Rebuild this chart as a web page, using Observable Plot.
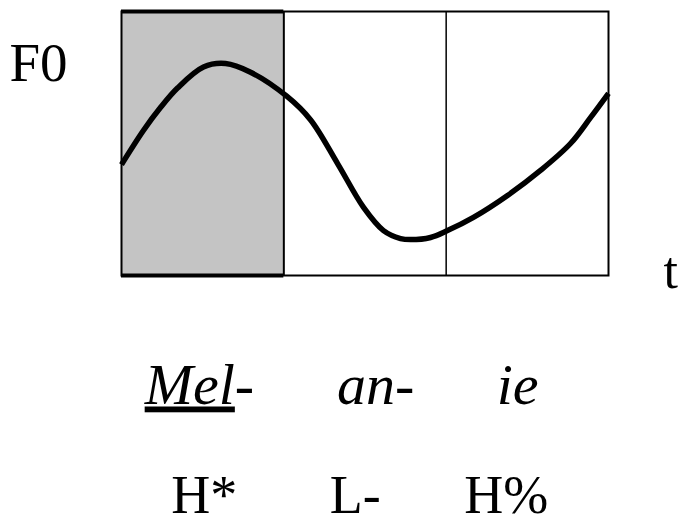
<!DOCTYPE html>
<html>
<head>
<meta charset="utf-8">
<script src="https://cdn.jsdelivr.net/npm/d3@7"></script>
<script src="https://cdn.jsdelivr.net/npm/@observablehq/plot@0.6"></script>
<style>
  html, body { margin: 0; padding: 0; background: #fff; }
</style>
</head>
<body>
<div id="chart"></div>
<script>
// Time (in syllable units) and F0 contour (relative units 0–100)
const timeT = [0, 0.136, 0.240, 0.345, 0.505, 0.641, 0.795, 1.016, 1.164, 1.331, 1.491, 1.614, 1.719, 1.780, 1.904, 2.008, 2.168, 2.378, 2.581, 2.766, 2.889, 3.0];
const f0Val = [42, 55, 63.6, 71, 79, 80.3, 77, 68, 59, 42.4, 25.8, 17, 14, 13.6, 14.4, 17, 22, 30.3, 39.8, 50, 59.8, 69];

// Syllables and tones
const syllables = ["Mel-", "an-", "ie"];
const syllableCenter = [0.48, 1.565, 2.44];
const tones = ["H*", "L-", "H%"];
const toneCenter = [0.51, 1.44, 2.37];
const stressedIndex = 0;
const boundaries = [1, 2];
const boundaryWidth = [2, 1.5];

const serif = "'Liberation Serif', 'Times New Roman', serif";

const contour = timeT.map((t, i) => ({t, f0: f0Val[i]}));
const idx = syllables.map((s, i) => i);

const chart = Plot.plot({
  width: 682,
  height: 525,
  marginLeft: 121,
  marginRight: 74,
  marginTop: 11,
  marginBottom: 250,
  x: {domain: [0, 3], axis: null},
  y: {domain: [0, 100], axis: null},
  marks: [
    Plot.rect([stressedIndex], {
      x1: d => d, x2: d => d + 1, y1: 0, y2: 100,
      fill: "#c4c4c4"
    }),
    Plot.frame({stroke: "#000", strokeWidth: 2}),
    Plot.ruleY([0, 100], {
      x1: stressedIndex, x2: stressedIndex + 1,
      stroke: "#000", strokeWidth: 4
    }),
    Plot.ruleX(boundaries, {stroke: "#000", strokeWidth: (d, i) => boundaryWidth[i]}),
    Plot.line(contour, {
      x: "t", y: "f0", curve: "catmull-rom",
      stroke: "#000", strokeWidth: 5.5, strokeLinecap: "butt", strokeLinejoin: "round"
    }),
    Plot.text(["F0"], {
      text: d => d, frameAnchor: "top-left", textAnchor: "start", lineAnchor: "bottom",
      dx: -112, dy: 69, fontSize: 55, fontFamily: serif, fill: "#000"
    }),
    Plot.text(["t"], {
      text: d => d, frameAnchor: "bottom-right", textAnchor: "start", lineAnchor: "bottom",
      dx: 55, dy: 12, fontSize: 52, fontFamily: serif, fill: "#000"
    }),
    Plot.text(idx, {
      x: i => syllableCenter[i], text: i => syllables[i],
      frameAnchor: "bottom", textAnchor: "middle", lineAnchor: "bottom",
      dy: 128, fontSize: 58, fontStyle: "italic", fontFamily: serif, fill: "#000"
    }),
    Plot.text(idx, {
      x: i => toneCenter[i], text: i => tones[i],
      frameAnchor: "bottom", textAnchor: "middle", lineAnchor: "bottom",
      dy: 237, fontSize: 54, fontFamily: serif, fill: "#000"
    })
  ]
});

document.getElementById("chart").appendChild(chart);

// Underline the stressed part of the stressed syllable
d3.select(chart).selectAll("text").each(function() {
  if (this.textContent === syllables[stressedIndex]) {
    const s = this.textContent;
    const base = s.replace(/-$/, "");
    this.textContent = "";
    d3.select(this).append("tspan").style("text-decoration", "underline").text(base);
    d3.select(this).append("tspan").text(s.slice(base.length));
  }
});
</script>
</body>
</html>
